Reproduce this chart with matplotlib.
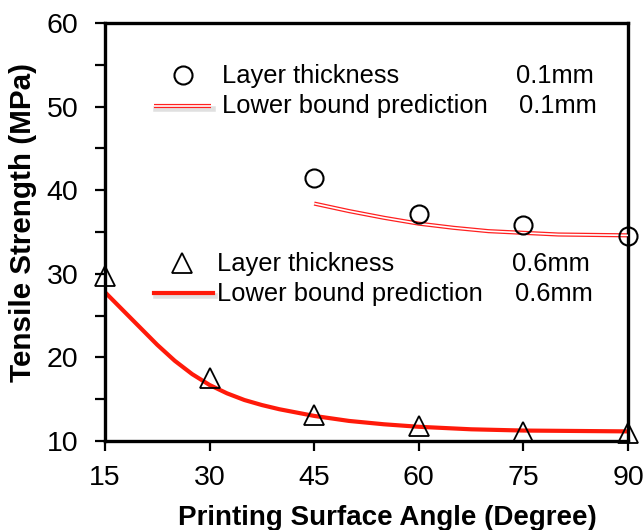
import matplotlib
matplotlib.use("Agg")
import matplotlib.pyplot as plt

plt.rcParams['font.family'] = ['Liberation Sans', 'DejaVu Sans']

# data
angles = [15, 30, 45, 60, 75, 90]
exp_01_x = [45, 60, 75, 90]
exp_01_y = [41.5, 37.2, 35.8, 34.5]
pred_01_x = [45, 50, 55, 60, 65, 70, 75, 80, 85, 90]
pred_01_y = [38.4, 37.5, 36.7, 36.0, 35.5, 35.1, 34.9, 34.7, 34.65, 34.6]
exp_06_x = [15, 30, 45, 60, 75, 90]
exp_06_y = [29.7, 17.5, 13.1, 11.8, 11.1, 10.9]
pred_06_x = [15, 17.5, 20, 22.5, 25, 27.5, 30, 32.5, 35, 37.5, 40, 45, 50, 55, 60, 67.5, 75, 82.5, 90]
pred_06_y = [27.8, 25.7, 23.6, 21.5, 19.6, 18.0, 16.7, 15.7, 14.9, 14.3, 13.8, 13.0, 12.4, 12.0, 11.7, 11.4, 11.25, 11.2, 11.15]
yticks = [10, 20, 30, 40, 50, 60]

fig = plt.figure(figsize=(6.44, 5.30), dpi=100)
ax = fig.add_axes([105/644, 1-441/530, (628-105)/644, (441-23)/530])

# 0.1 mm prediction: double red line
ax.plot(pred_01_x, pred_01_y, color='#ff2020', lw=3.0, zorder=2, solid_capstyle='butt')
ax.plot(pred_01_x, pred_01_y, color='white', lw=1.2, zorder=3, solid_capstyle='butt')
ax.plot(exp_01_x, exp_01_y, 'o', ms=13, mfc='none', mec='black', mew=1.5, zorder=4, clip_on=False)

ax.plot(pred_06_x, pred_06_y, color='#ff1a0a', lw=3.0, zorder=2)
ax.plot(exp_06_x, exp_06_y, '^', ms=14, mfc='none', mec='black', mew=1.3, zorder=4, clip_on=False)

ax.set_xlim(15, 90)
ax.set_ylim(10, 60)
ax.set_xticks(angles)
ax.set_yticks(yticks)
ax.set_yticks([15, 25, 35, 45, 55], minor=True)
for s in ax.spines.values():
    s.set_linewidth(2.4)
ax.tick_params(axis='both', which='major', direction='out', length=7, width=1.6, labelsize=20.5)
ax.tick_params(axis='y', which='major', pad=12)
ax.tick_params(axis='x', which='major', pad=10)
ax.tick_params(axis='y', which='minor', direction='out', length=7, width=1.6)
ax.set_xlabel('Printing Surface Angle (Degree)', fontsize=20, fontweight='bold')
ax.set_ylabel('Tensile Strength (MPa)', fontsize=21.3, fontweight='bold')
ax.xaxis.set_label_coords(0.539, -0.153)
ax.yaxis.set_label_coords(-0.130, 0.522)

def fx(px):
    return px / 644
def fy(py):
    return 1 - py / 530

fs = 18.4
fig.text(fx(222), fy(76), 'Layer thickness', fontsize=fs, va='center')
fig.text(fx(516), fy(76), '0.1mm', fontsize=fs, va='center')
fig.text(fx(222), fy(106), 'Lower bound prediction', fontsize=fs, va='center')
fig.text(fx(519), fy(106), '0.1mm', fontsize=fs, va='center')
fig.text(fx(217), fy(264), 'Layer thickness', fontsize=fs, va='center')
fig.text(fx(512), fy(264), '0.6mm', fontsize=fs, va='center')
fig.text(fx(217), fy(294), 'Lower bound prediction', fontsize=fs, va='center')
fig.text(fx(515), fy(294), '0.6mm', fontsize=fs, va='center')

sym = fig.add_axes([0, 0, 1, 1], facecolor='none')
sym.set_xlim(0, 644)
sym.set_ylim(530, 0)
sym.axis('off')
sym.plot([183], [75], 'o', ms=13, mfc='none', mec='black', mew=1.5)
sym.plot([182], [263], '^', ms=14, mfc='none', mec='black', mew=1.3)
# shadowed line samples
sym.plot([156, 213], [109, 109], color='#cccccc', lw=4, alpha=0.6)
sym.plot([154, 211], [106, 106], color='#ff2020', lw=3.0, solid_capstyle='butt')
sym.plot([154, 211], [106, 106], color='white', lw=1.2, solid_capstyle='butt')
sym.plot([156, 215], [296, 296], color='#cccccc', lw=4, alpha=0.6)
sym.plot([154, 213], [293, 293], color='#ff1a0a', lw=3.0)

fig.savefig('out.png', dpi=100)
